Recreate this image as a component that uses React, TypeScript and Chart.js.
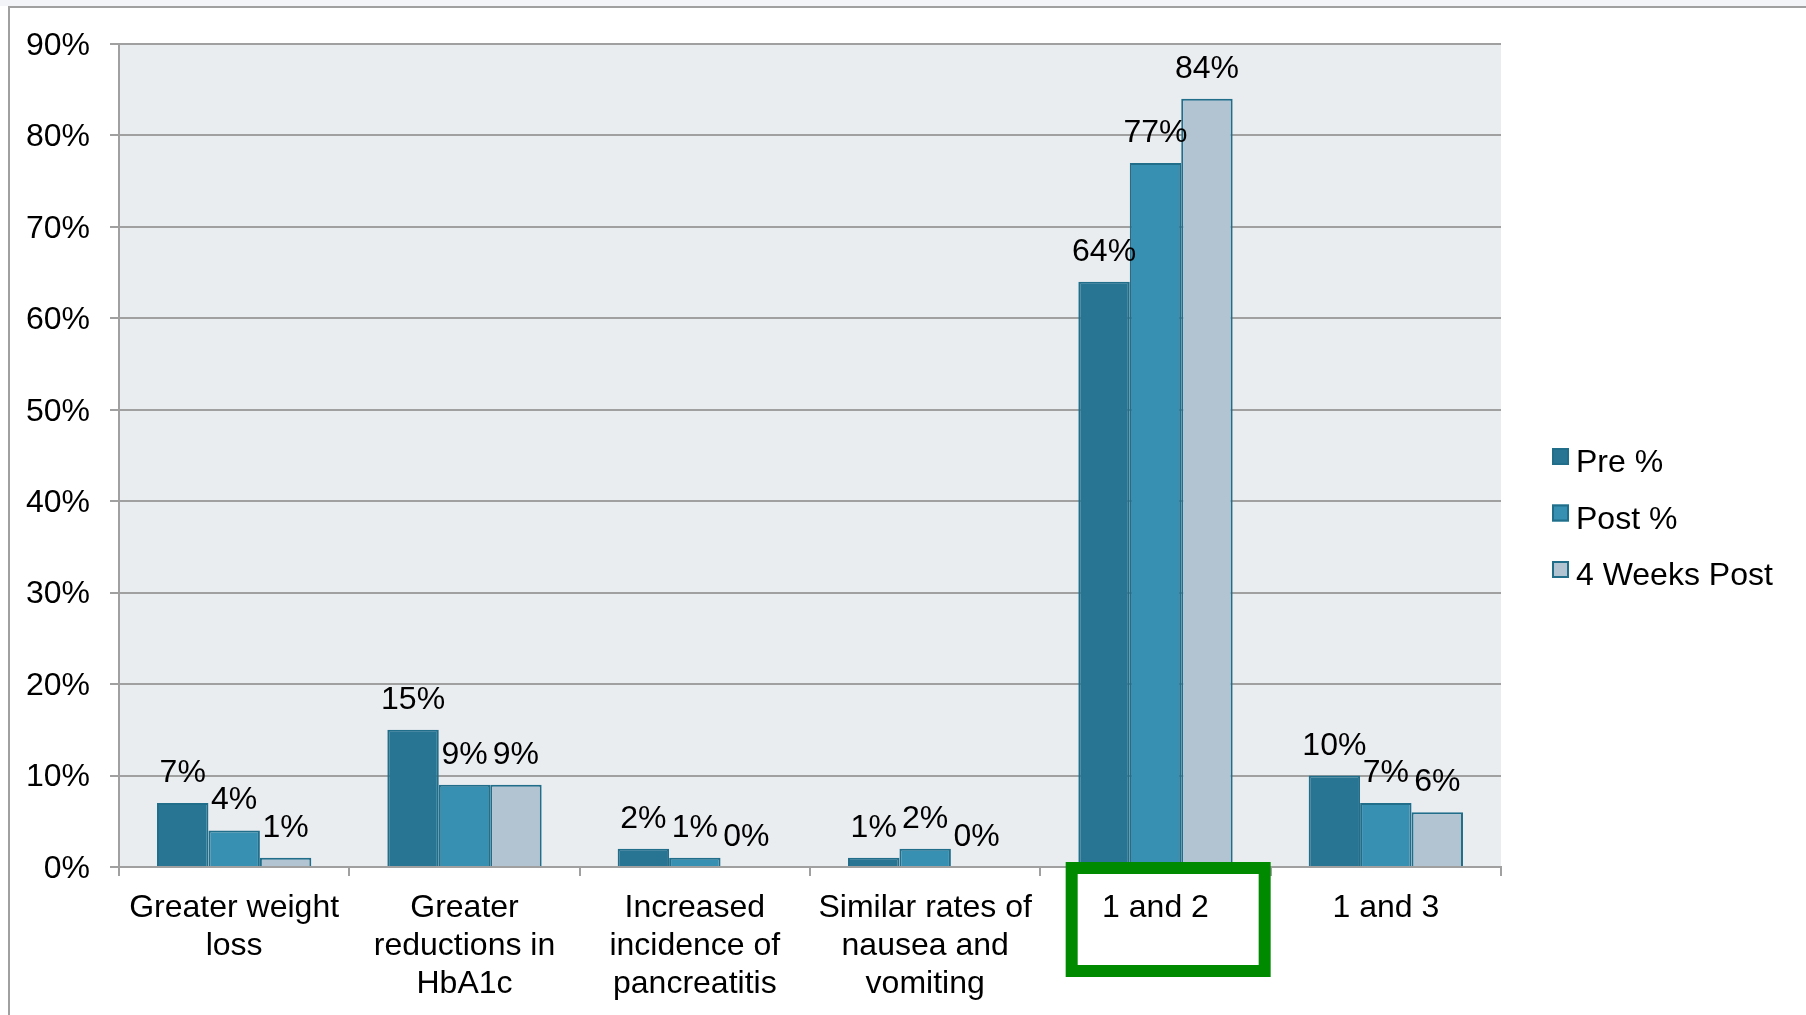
import React, { useEffect, useRef } from 'react';
import { Chart, registerables } from 'chart.js';

Chart.register(...registerables);

const categories: string[][] = [
  ['Greater weight', 'loss'],
  ['Greater', 'reductions in', 'HbA1c'],
  ['Increased', 'incidence of', 'pancreatitis'],
  ['Similar rates of', 'nausea and', 'vomiting'],
  ['1 and 2'],
  ['1 and 3'],
];
const preValues = [7, 15, 2, 1, 64, 10];
const postValues = [4, 9, 1, 2, 77, 7];
const fourWeeksValues = [1, 9, 0, 0, 84, 6];
const seriesNames = ['Pre %', 'Post %', '4 Weeks Post'];
const seriesColors = ['#277592', '#3790b2', '#b2c4d2'];
const borderColor = '#216e8a';
const yMin = 0;
const yMax = 90;
const yStep = 10;
const highlightedIndex = 4;

const FONT = '"Liberation Sans", Arial, sans-serif';
const FS = 32;
const W = 1806;
const H = 1015;

const plotBgPlugin = {
  id: 'plotBg',
  beforeDraw(chart: any) {
    const { ctx, chartArea } = chart;
    ctx.save();
    ctx.fillStyle = '#eaedf0';
    ctx.fillRect(chartArea.left, chartArea.top, chartArea.right - chartArea.left, chartArea.bottom - chartArea.top);
    ctx.restore();
  },
};

const dataLabelPlugin = {
  id: 'dataLabels',
  afterDatasetsDraw(chart: any) {
    const { ctx } = chart;
    ctx.save();
    ctx.font = `${FS}px ${FONT}`;
    ctx.fillStyle = '#000';
    ctx.textAlign = 'center';
    ctx.textBaseline = 'alphabetic';
    chart.data.datasets.forEach((ds: any, i: number) => {
      const meta = chart.getDatasetMeta(i);
      meta.data.forEach((bar: any, j: number) => {
        ctx.fillText(`${ds.data[j]}%`, bar.x, bar.y - 21);
      });
    });
    ctx.restore();
  },
};

const legendPlugin = {
  id: 'customLegend',
  afterDraw(chart: any) {
    const { ctx, chartArea } = chart;
    ctx.save();
    ctx.font = `${FS}px ${FONT}`;
    ctx.textAlign = 'left';
    ctx.textBaseline = 'alphabetic';
    const boxX = chartArea.right + 51;
    seriesNames.forEach((name, i) => {
      const baseline = chartArea.top + 428 + i * 56.5;
      ctx.fillStyle = seriesColors[i];
      ctx.fillRect(boxX, baseline - 24, 17, 17);
      ctx.strokeStyle = borderColor;
      ctx.lineWidth = 2;
      ctx.strokeRect(boxX + 1, baseline - 23, 15, 15);
      ctx.fillStyle = '#000';
      ctx.fillText(name, boxX + 24, baseline);
    });
    ctx.restore();
  },
};

const highlightPlugin = {
  id: 'highlightBox',
  afterDraw(chart: any) {
    const { ctx, chartArea } = chart;
    const x = chart.scales.x;
    const w = x.getPixelForValue(1) - x.getPixelForValue(0);
    const c = x.getPixelForValue(highlightedIndex);
    const left = c - 0.5 * w + 0.11 * w;
    const right = c + 0.5 * w;
    const top = chartArea.bottom - 5;
    const bottom = top + 115;
    const t = 12;
    ctx.save();
    ctx.strokeStyle = '#008a00';
    ctx.lineWidth = t;
    ctx.strokeRect(left + t / 2, top + t / 2, right - left - t, bottom - top - t);
    ctx.restore();
  },
};

export default function App() {
  const canvasRef = useRef<HTMLCanvasElement | null>(null);

  useEffect(() => {
    const canvas = canvasRef.current;
    if (!canvas) return;
    const chart = new Chart(canvas, {
      type: 'bar',
      data: {
        labels: categories,
        datasets: [
          { label: seriesNames[0], data: preValues, backgroundColor: seriesColors[0], borderColor, borderWidth: 2 },
          { label: seriesNames[1], data: postValues, backgroundColor: seriesColors[1], borderColor, borderWidth: 2 },
          { label: seriesNames[2], data: fourWeeksValues, backgroundColor: seriesColors[2], borderColor, borderWidth: 2 },
        ],
      },
      options: {
        responsive: false,
        animation: false,
        devicePixelRatio: 1,
        layout: { padding: { top: 44, right: 305, left: 0, bottom: 0 } },
        datasets: { bar: { categoryPercentage: 0.67, barPercentage: 1.0 } },
        plugins: {
          legend: { display: false },
          tooltip: { enabled: false },
        },
        scales: {
          x: {
            grid: {
              display: true,
              drawOnChartArea: false,
              drawTicks: true,
              tickLength: 9,
              color: '#a0a0a0',
              lineWidth: 2,
              offset: true,
            },
            border: { display: true, color: '#a0a0a0', width: 2 },
            ticks: {
              color: '#000',
              font: { family: FONT, size: FS, lineHeight: 1.19 },
              padding: 13,
              maxRotation: 0,
              minRotation: 0,
              autoSkip: false,
            },
            afterFit(scale: any) {
              scale.height = 148;
            },
          },
          y: {
            min: yMin,
            max: yMax,
            ticks: {
              stepSize: yStep,
              color: '#000',
              font: { family: FONT, size: FS },
              padding: 20,
              labelOffset: 2,
              callback: (v: any) => `${v}%`,
            },
            grid: { color: '#a0a0a0', lineWidth: 2, tickLength: 9, drawTicks: true },
            border: { display: true, color: '#a0a0a0', width: 2 },
            afterFit(scale: any) {
              scale.width = 119;
            },
          },
        },
      },
      plugins: [plotBgPlugin, dataLabelPlugin, legendPlugin, highlightPlugin],
    });
    return () => chart.destroy();
  }, []);

  return (
    <div style={{ position: 'fixed', left: 0, top: 0, width: W, height: H, background: '#fff', overflow: 'hidden' }}>
      <div style={{ position: 'absolute', left: 0, top: 0, width: W, height: 6, background: '#f3f4f7' }} />
      <div
        style={{
          position: 'absolute',
          left: 8,
          top: 6,
          width: W,
          height: H + 20,
          borderTop: '2px solid #a0a0a0',
          borderLeft: '2px solid #a0a0a0',
        }}
      />
      <canvas
        ref={canvasRef}
        width={W}
        height={H}
        style={{ position: 'absolute', left: 0, top: 0, width: W, height: H }}
      />
    </div>
  );
}
